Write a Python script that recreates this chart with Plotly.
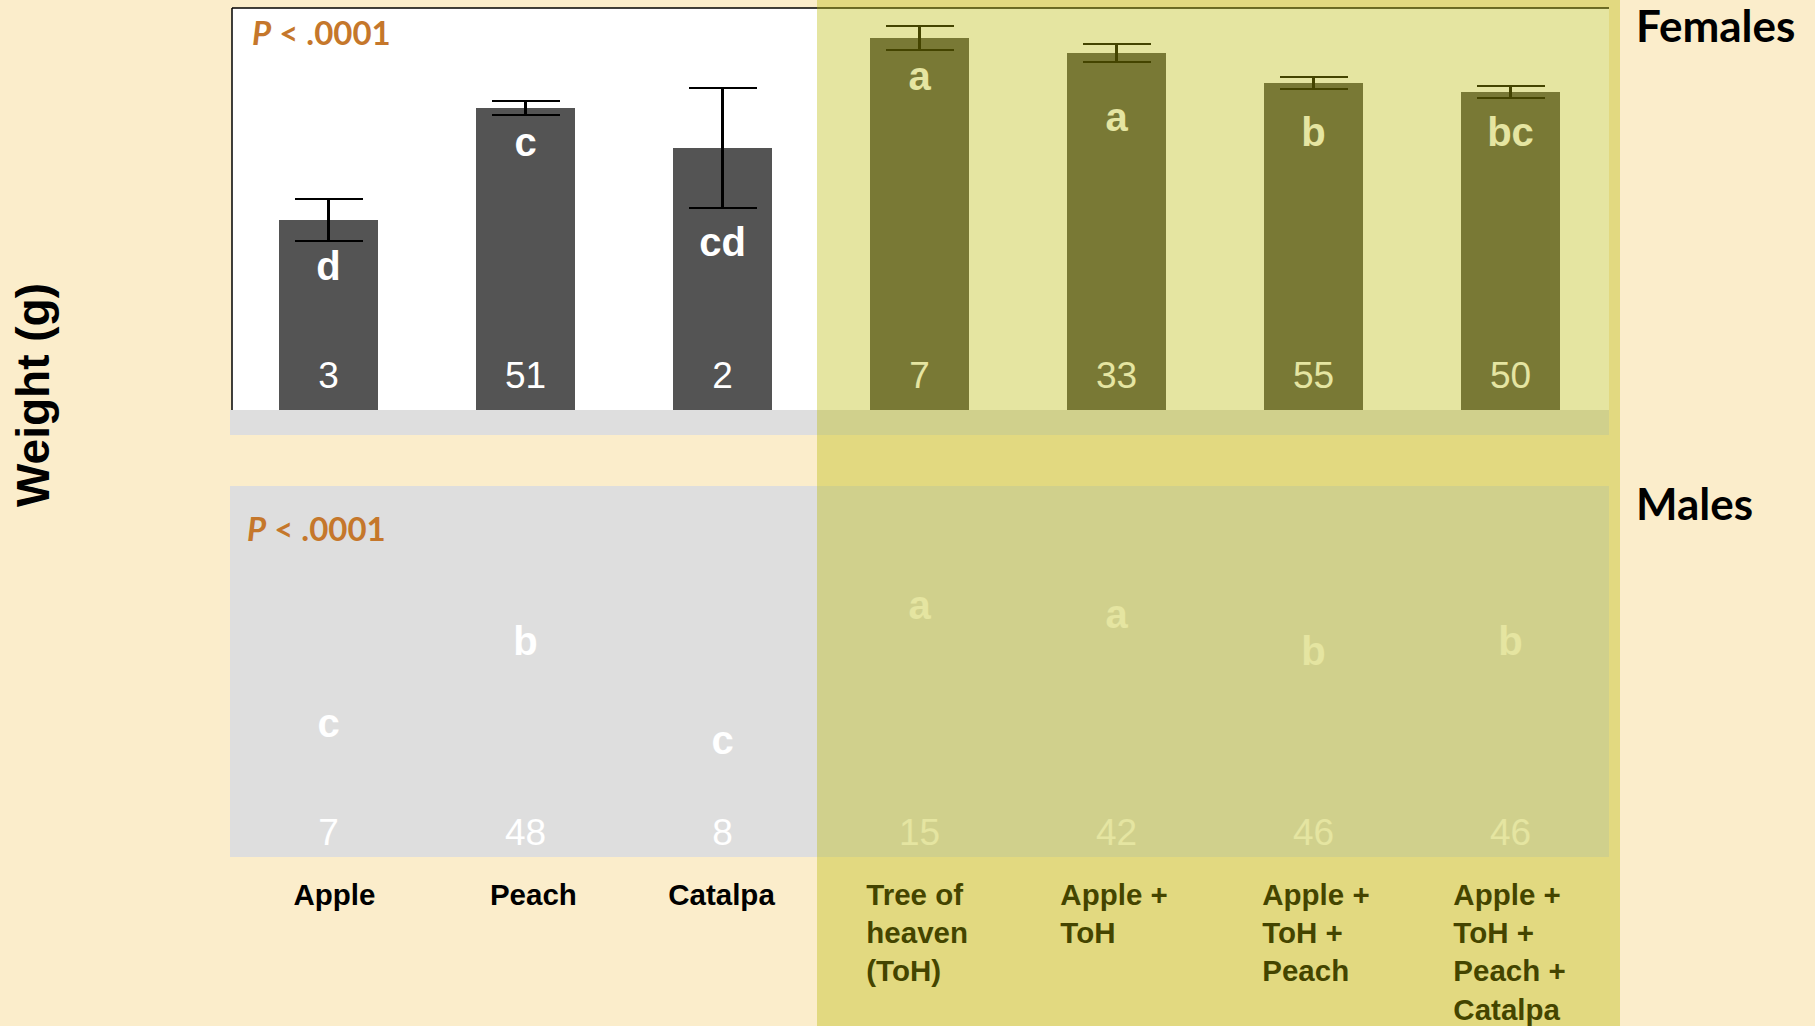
import plotly.graph_objects as go
import numpy as np

W, H = 1815, 1026

# ---------------- data ----------------
categories = ["Apple", "Peach", "Catalpa", "Tree of heaven (ToH)", "Apple + ToH",
              "Apple + ToH + Peach", "Apple + ToH + Peach + Catalpa"]
category_labels = ["Apple", "Peach", "Catalpa", "Tree of<br>heaven<br>(ToH)", "Apple +<br>ToH",
                   "Apple +<br>ToH +<br>Peach", "Apple +<br>ToH +<br>Peach +<br>Catalpa"]

female_mean = [0.0190, 0.0302, 0.0262, 0.0372, 0.0357, 0.0327, 0.0318]
female_se = [0.0021, 0.0007, 0.0060, 0.0012, 0.0009, 0.0006, 0.0006]
female_letters = ["d", "c", "cd", "a", "a", "b", "bc"]
female_letter_y = [0.0140, 0.0264, 0.0164, 0.0330, 0.0289, 0.0274, 0.0274]
female_n = [3, 51, 2, 7, 33, 55, 50]

male_mean = [0.0173, 0.0255, 0.0156, 0.0291, 0.0282, 0.0245, 0.0255]
male_letters = ["c", "b", "c", "a", "a", "b", "b"]
male_n = [7, 48, 8, 15, 42, 46, 46]

p_text = "<i>P</i> &lt; .0001"

# ---------------- styling ----------------
CREAM = "#FBEDCB"
GRAY = "#DEDEDE"
BAR = "#545454"
ORANGE = "#C5772B"
OVERLAY = "rgba(184,184,0,0.37)"
ARIAL = "Liberation Sans, Arial, sans-serif"
CAL = "Lato, Calibri, sans-serif"

def px_x(p):
    return p / W

def px_y(p):
    return 1 - p / H

xpos = np.arange(len(categories))
X_DOMAIN = [px_x(232), px_x(1609)]
X_RANGE = [(232 - 328.5) / 197, (1609 - 328.5) / 197]

fig = go.Figure()

# female bars
fig.add_trace(go.Bar(
    x=xpos, y=female_mean, width=0.5, marker=dict(color=BAR, line=dict(width=0)),
    error_y=dict(type="data", array=female_se, color="black", thickness=2.5, width=34),
    xaxis="x", yaxis="y", showlegend=False, hoverinfo="skip"))

# male bars (hidden behind the panel colour, as on the slide)
fig.add_trace(go.Bar(
    x=xpos, y=male_mean, width=0.5, marker=dict(color=GRAY, line=dict(width=0)),
    xaxis="x2", yaxis="y2", showlegend=False, hoverinfo="skip"))

# female letters + n
fig.add_trace(go.Scatter(
    x=xpos, y=female_letter_y, mode="text", text=female_letters,
    textposition="middle center", textfont=dict(family=ARIAL, size=40, color="white", weight="bold"),
    xaxis="x", yaxis="y", cliponaxis=False, showlegend=False, hoverinfo="skip"))
fig.add_trace(go.Scatter(
    x=xpos, y=[0.0031] * len(xpos), mode="text", text=[str(v) for v in female_n],
    textposition="middle center", textfont=dict(family=ARIAL, size=37, color="white"),
    xaxis="x", yaxis="y", cliponaxis=False, showlegend=False, hoverinfo="skip"))

# male letters + n
fig.add_trace(go.Scatter(
    x=xpos, y=[m - 0.0043 for m in male_mean], mode="text", text=male_letters,
    textposition="middle center", textfont=dict(family=ARIAL, size=40, color="white", weight="bold"),
    xaxis="x2", yaxis="y2", cliponaxis=False, showlegend=False, hoverinfo="skip"))
fig.add_trace(go.Scatter(
    x=xpos, y=[0.0021] * len(xpos), mode="text", text=[str(v) for v in male_n],
    textposition="middle center", textfont=dict(family=ARIAL, size=37, color="white"),
    xaxis="x2", yaxis="y2", cliponaxis=False, showlegend=False, hoverinfo="skip"))

# category labels (on a dedicated strip below the male panel)
label_shift = [0.03, 0.04, -0.005, -0.27, -0.285, -0.26, -0.29]
lab_x = [x + s for x, s in zip(xpos, label_shift)]
lab_pos = ["bottom center" if i < 3 else "bottom right" for i in range(len(xpos))]
fig.add_trace(go.Scatter(
    x=lab_x, y=[143.5] * len(xpos), mode="text", text=category_labels,
    textposition=lab_pos, textfont=dict(family=ARIAL, size=29.5, color="black", weight="bold"),
    xaxis="x3", yaxis="y3", cliponaxis=False, showlegend=False, hoverinfo="skip"))

shapes = [
    # female panel
    dict(type="rect", xref="paper", yref="paper", x0=px_x(232), x1=px_x(1609), y0=px_y(410), y1=px_y(8),
         fillcolor="white", line=dict(width=0), layer="below"),
    dict(type="line", xref="paper", yref="paper", x0=px_x(232), x1=px_x(232), y0=px_y(410), y1=px_y(8),
         line=dict(color="black", width=1.5), layer="below"),
    dict(type="line", xref="paper", yref="paper", x0=px_x(232), x1=px_x(1609), y0=px_y(8), y1=px_y(8),
         line=dict(color="black", width=1.5), layer="below"),
    # gray strip
    dict(type="rect", xref="paper", yref="paper", x0=px_x(230), x1=px_x(1609), y0=px_y(435), y1=px_y(410),
         fillcolor=GRAY, line=dict(width=0), layer="below"),
    # male panel
    dict(type="rect", xref="paper", yref="paper", x0=px_x(230), x1=px_x(1609), y0=px_y(857), y1=px_y(486),
         fillcolor=GRAY, line=dict(width=0), layer="below"),
    # yellow overlay
    dict(type="rect", xref="paper", yref="paper", x0=px_x(817), x1=px_x(1620), y0=0, y1=1,
         fillcolor=OVERLAY, line=dict(width=0), layer="above"),
]

annotations = [
    dict(text=p_text, x=px_x(250), y=px_y(32), xref="paper", yref="paper", xanchor="left", yanchor="middle",
         showarrow=False, font=dict(family=CAL, size=33, color=ORANGE, weight="bold")),
    dict(text=p_text, x=px_x(245), y=px_y(528), xref="paper", yref="paper", xanchor="left", yanchor="middle",
         showarrow=False, font=dict(family=CAL, size=33, color=ORANGE, weight="bold")),
    dict(text="Females", x=px_x(1634), y=px_y(25), xref="paper", yref="paper", xanchor="left", yanchor="middle",
         showarrow=False, font=dict(family=CAL, size=44, color="black", weight="bold")),
    dict(text="Males", x=px_x(1634), y=px_y(503), xref="paper", yref="paper", xanchor="left", yanchor="middle",
         showarrow=False, font=dict(family=CAL, size=44, color="black", weight="bold")),
    dict(text="Weight (g)", x=px_x(33), y=px_y(395), xref="paper", yref="paper", xanchor="center", yanchor="middle",
         textangle=-90, showarrow=False, font=dict(family=ARIAL, size=46, color="black", weight="bold")),
]

hidden = dict(visible=False, fixedrange=True)
fig.update_layout(
    width=W, height=H, margin=dict(l=0, r=0, t=0, b=0),
    paper_bgcolor=CREAM, plot_bgcolor="rgba(0,0,0,0)",
    xaxis=dict(domain=X_DOMAIN, range=X_RANGE, anchor="y", **hidden),
    yaxis=dict(domain=[px_y(410), px_y(8)], range=[0, 0.0402], anchor="x", **hidden),
    xaxis2=dict(domain=X_DOMAIN, range=X_RANGE, anchor="y2", **hidden),
    yaxis2=dict(domain=[px_y(857), px_y(486)], range=[0, 0.0371], anchor="x2", **hidden),
    xaxis3=dict(domain=X_DOMAIN, range=X_RANGE, anchor="y3", **hidden),
    yaxis3=dict(domain=[0, px_y(857)], range=[0, 1026 - 857], anchor="x3", **hidden),
    shapes=shapes, annotations=annotations, bargap=0,
)

fig.write_html("out.html")
